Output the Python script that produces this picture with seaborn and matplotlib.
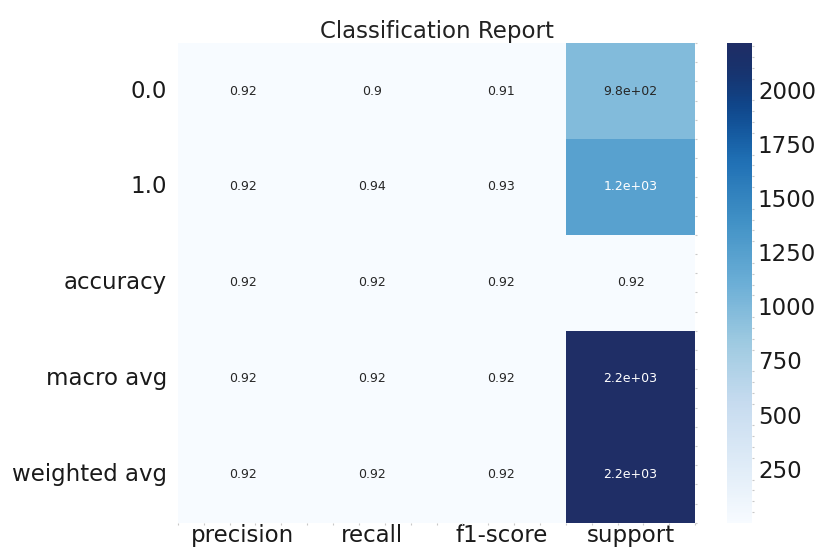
import numpy as np
import pandas as pd
import matplotlib
matplotlib.use("Agg")
import matplotlib.pyplot as plt
from matplotlib.colors import ListedColormap
from matplotlib.ticker import MultipleLocator
import seaborn as sns

# Classification report values
row_labels = ["0.0", "1.0", "accuracy", "macro avg", "weighted avg"]
col_labels = ["precision", "recall", "f1-score", "support"]
precision = [0.92, 0.92, 0.92, 0.92, 0.92]
recall = [0.90, 0.94, 0.92, 0.92, 0.92]
f1_score = [0.91, 0.93, 0.92, 0.92, 0.92]
support = [985, 1230, 0.92, 2215, 2215]

report = pd.DataFrame(
    {"precision": precision, "recall": recall, "f1-score": f1_score, "support": support},
    index=row_labels,
)[col_labels]

# Blues with a slightly more navy top end
t = np.linspace(0, 1, 256)
base = plt.get_cmap("Blues")(t)
navy = np.array([0.12, 0.18, 0.40, 1.0])
w = np.clip((t - 0.75) / 0.25, 0, 1)[:, None] ** 1.5
cmap = ListedColormap(base * (1 - w) + navy * w)

sns.set_style("white")
plt.rcParams["font.family"] = ["DejaVu Sans"]

fig = plt.figure(figsize=(8.16, 5.52), dpi=100)
ax = fig.add_axes([0.218, 0.053, 0.634, 0.869])
cax = fig.add_axes([0.891, 0.053, 0.031, 0.869])

sns.heatmap(report, annot=True, cmap=cmap, ax=ax, cbar_ax=cax,
            annot_kws={"fontsize": 9})

ax.set_title("Classification Report", fontsize=16.5, pad=4, color="#222222")
ax.tick_params(axis="both", which="major", length=0, labelsize=16.5,
               labelcolor="#1a1a1a")
ax.tick_params(axis="y", rotation=0, pad=8)
ax.tick_params(axis="x", pad=1)

# faint minor ticks along the bottom and right edges
ax.xaxis.set_minor_locator(MultipleLocator(0.2))
ax.yaxis.set_minor_locator(MultipleLocator(0.2))
ax.tick_params(which="minor", bottom=True, left=False, right=True,
               length=1.5, width=0.8, color="#c8c8c8")

cax.tick_params(which="major", labelsize=16.5, length=0, pad=4,
                labelcolor="#1a1a1a")
cax.yaxis.set_minor_locator(MultipleLocator(50))
cax.tick_params(which="minor", length=1.5, width=0.8, color="#c8c8c8")

fig.savefig("out.png", dpi=100)
